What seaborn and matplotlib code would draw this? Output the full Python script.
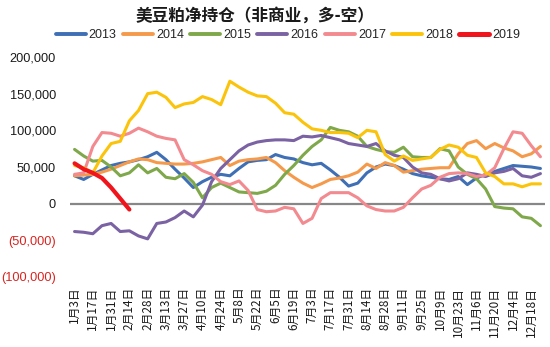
import matplotlib
matplotlib.use("Agg")
import matplotlib.pyplot as plt
import pandas as pd
import seaborn as sns
from matplotlib.lines import Line2D

# ---------------- data (thousands of contracts) ----------------
years = ["2013", "2014", "2015", "2016", "2017", "2018", "2019"]

net_2013 = [38, 33, 40, 46, 52, 55, 57, 60, 64, 70, 60, 47, 35, 22, 30, 36, 40, 38, 48, 57,
            59, 60, 67, 63, 61, 56, 53, 55, 46, 36, 24, 28, 42, 50, 54, 52, 47, 41, 38, 36,
            34, 33, 37, 26, 35, 40, 44, 48, 52, 51, 50, 48]
net_2014 = [38, 39, 40, 43, 47, 52, 57, 61, 60, 56, 55, 54, 54, 55, 57, 60, 63, 52, 58, 60,
            61, 63, 56, 45, 36, 28, 22, 27, 33, 35, 38, 43, 54, 48, 56, 52, 43, 45, 47, 48,
            49, 49, 68, 82, 86, 75, 82, 76, 72, 64, 68, 78]
net_2015 = [74, 65, 58, 59, 50, 38, 42, 53, 42, 48, 36, 34, 41, 29, 8, 22, 28, 22, 16, 15,
            14, 17, 25, 40, 52, 66, 78, 87, 104, 100, 98, 92, 78, 74, 71, 70, 77, 64, 63, 63,
            75, 72, 50, 40, 34, 20, -4, -6, -7, -18, -20, -30]
net_2016 = [-38, -39, -41, -30, -27, -38, -37, -44, -48, -27, -25, -19, -10, -18, -2, 30, 48, 60, 72, 80,
            84, 86, 87, 87, 86, 92, 91, 93, 90, 87, 82, 80, 78, 82, 72, 66, 63, 50, 42, 40,
            34, 31, 34, 42, 40, 37, 42, 44, 48, 38, 36, 41]
net_2017 = [40, 42, 78, 97, 96, 92, 96, 103, 98, 92, 89, 87, 60, 53, 45, 40, 30, 26, 31, 18,
            -8, -11, -10, -5, -7, -27, -20, 7, 15, 15, 15, 8, -3, -8, -10, -10, -5, 8, 20, 25,
            36, 41, 42, 41, 37, 39, 49, 75, 98, 96, 79, 64]
net_2018 = [52, 49, 42, 65, 82, 85, 113, 127, 150, 152, 145, 131, 136, 138, 146, 142, 135, 167, 159, 152,
            147, 146, 137, 124, 122, 111, 102, 100, 97, 97, 96, 90, 100, 98, 67, 58, 65, 59, 61, 63,
            74, 80, 77, 66, 63, 42, 37, 27, 27, 23, 27, 27]
net_2019 = [55, 47, 42, 35, 22, 7, -8]

tick_labels = ["1月3日", "1月17日", "1月31日", "2月14日", "2月28日", "3月13日", "3月27日",
               "4月10日", "4月24日", "5月8日", "5月22日", "6月5日", "6月19日", "7月3日",
               "7月17日", "7月31日", "8月14日", "8月28日", "9月11日", "9月25日", "10月9日",
               "10月23日", "11月6日", "11月20日", "12月4日", "12月18日"]

y_ticks = [-100000, -50000, 0, 50000, 100000, 150000, 200000]
y_tick_labels = ["(100,000)", "(50,000)", "0", "50,000", "100,000", "150,000", "200,000"]

title = "美豆粕净持仓（非商业，多-空）"

# ---------------- styling ----------------
colors = {"2013": "#3F6FB4", "2014": "#F59A4B", "2015": "#7FA84A", "2016": "#7A62A3",
          "2017": "#F28A90", "2018": "#FBC30A", "2019": "#F0141C"}
widths = {"2013": 2.2, "2014": 2.2, "2015": 2.2, "2016": 2.2,
          "2017": 2.2, "2018": 2.2, "2019": 3.0}

series = dict(zip(years, [net_2013, net_2014, net_2015, net_2016, net_2017, net_2018, net_2019]))
rows = []
for yr, vals in series.items():
    for i, v in enumerate(vals):
        rows.append({"week": i, "value": v * 1000, "year": yr})
df = pd.DataFrame(rows)

sns.set_theme(style="white")
plt.rcParams['font.family'] = ['Liberation Sans', 'Noto Sans CJK SC', 'DejaVu Sans']

fig = plt.figure(figsize=(5.5, 3.47), dpi=100)
ax = fig.add_axes([70 / 550, 1 - 277 / 347, 475 / 550, 220 / 347])

ax.axhline(0, color="#878787", lw=1.6, zorder=1)

sns.lineplot(data=df, x="week", y="value", hue="year", size="year",
             hue_order=years, size_order=years, palette=colors, sizes=widths,
             ax=ax, legend=False, zorder=3)

ax.set_xlim(-0.5, 51.5)
ax.set_ylim(-100000, 200000)
for s in ax.spines.values():
    s.set_visible(False)
ax.set_xlabel("")
ax.set_ylabel("")

ax.set_yticks(y_ticks)
ax.set_yticklabels(y_tick_labels, fontsize=9.2, family=['Liberation Sans', 'DejaVu Sans'])
for lab, v in zip(ax.get_yticklabels(), y_ticks):
    lab.set_color("#D9231F" if v < 0 else "#1A1A1A")
ax.tick_params(axis="y", length=0, pad=10)

ax.set_xticks(list(range(0, 52, 2)))
ax.set_xticklabels(tick_labels, rotation=90, fontsize=8.5,
                   family=['Noto Sans CJK SC', 'DejaVu Sans'], color="#1A1A1A")
ax.tick_params(axis="x", length=0, pad=7)

handles = [Line2D([0], [0], color=colors[y], lw=widths[y] + 0.6) for y in years]
fig.legend(handles, years, loc="center", bbox_to_anchor=(288 / 550, 1 - 35 / 347),
           ncol=7, frameon=False, fontsize=9, handlelength=2.4, handletextpad=0.25,
           columnspacing=0.5, borderpad=0)

fig.text(255 / 550, 1 - 16 / 347, title, ha="center", va="center", fontsize=12,
         fontweight="bold", family=['Noto Sans CJK SC', 'DejaVu Sans'], color="#1A1A1A")

fig.savefig("out.png", dpi=100)
